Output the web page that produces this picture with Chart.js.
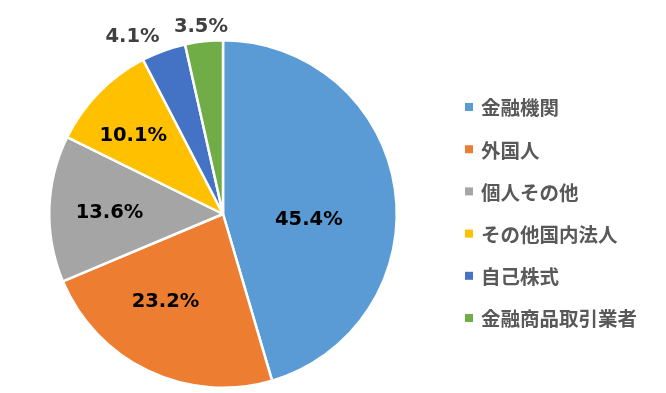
<!DOCTYPE html>
<html><head><meta charset="utf-8">
<script src="https://cdn.jsdelivr.net/npm/chart.js@4/dist/chart.umd.min.js"></script>
<style>html,body{margin:0;padding:0;background:#fff;}#wrap{width:666px;height:393px;position:relative;}</style>
</head><body><div id="wrap"><canvas id="c"></canvas></div>
<script>
const categories = ['金融機関','外国人','個人その他','その他国内法人','自己株式','金融商品取引業者'];
const shares = [45.4, 23.2, 13.6, 10.1, 4.1, 3.5];
const shareLabels = ['45.4%','23.2%','13.6%','10.1%','4.1%','3.5%'];

const colors = ['#5B9BD5','#ED7D31','#A5A5A5','#FFC000','#4472C4','#70AD47'];
// label placement: radial factor and angular nudge (degrees) from slice mid-angle
const labelRadius = [0.495, 0.6, 0.653, 0.688, 1.148, 1.088];
const labelNudge = [11.5, 8.1, -0.7, -3.1, -7, -0.4];

const labelPlugin = {
  id: 'labels',
  afterDatasetsDraw(chart) {
    const ctx = chart.ctx;
    const meta = chart.getDatasetMeta(0);
    ctx.save();
    ctx.font = 'bold 19.5px "DejaVu Sans", Verdana, sans-serif';
    ctx.textAlign = 'center';
    ctx.textBaseline = 'middle';
    meta.data.forEach((arc, i) => {
      const p = arc.getProps(['x','y','startAngle','endAngle','outerRadius'], true);
      const mid = (p.startAngle + p.endAngle) / 2 + labelNudge[i] * Math.PI / 180;
      const r = p.outerRadius * labelRadius[i];
      const x = p.x + Math.cos(mid) * r;
      const y = p.y + Math.sin(mid) * r;
      ctx.fillStyle = labelRadius[i] > 1 ? '#404040' : '#000000';
      ctx.fillText(shareLabels[i], x, y + 1);
    });
    ctx.restore();
  }
};

const legendPlugin = {
  id: 'sideLegend',
  afterDraw(chart) {
    const ctx = chart.ctx;
    ctx.save();
    ctx.font = 'bold 19.5px "Noto Sans CJK JP", sans-serif';
    ctx.textBaseline = 'middle';
    ctx.textAlign = 'left';
    categories.forEach((c, i) => {
      const y = 107 + i * 42.2;
      ctx.fillStyle = colors[i];
      ctx.fillRect(465, y - 4, 8, 8);
      ctx.fillStyle = '#595959';
      ctx.fillText(c, 481, y + 1);
    });
    ctx.restore();
  }
};

new Chart(document.getElementById('c'), {
  type: 'pie',
  data: {
    labels: categories,
    datasets: [{
      data: shares,
      backgroundColor: colors,
      borderColor: '#FFFFFF',
      borderWidth: 2.5
    }]
  },
  options: {
    responsive: true,
    maintainAspectRatio: false,
    animation: false,
    layout: { padding: { top: 39, bottom: 4, left: 48, right: 268 } },
    plugins: { legend: { display: false }, tooltip: { enabled: false } }
  },
  plugins: [labelPlugin, legendPlugin]
});
</script></body></html>
